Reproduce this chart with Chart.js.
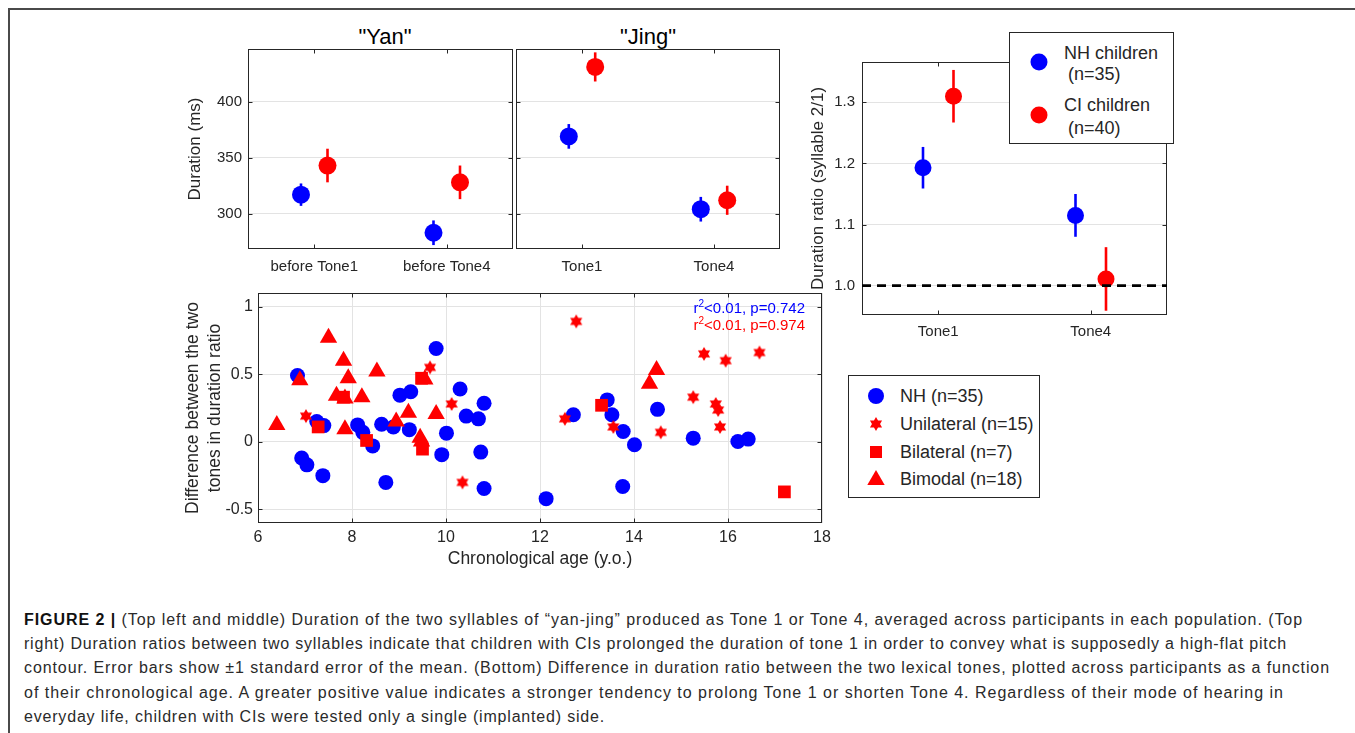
<!DOCTYPE html>
<html>
<head>
<meta charset="utf-8">
<title>Figure 2</title>
<script src="https://cdn.jsdelivr.net/npm/chart.js@4.4.1/dist/chart.umd.min.js"></script>
<style>
  html, body { margin:0; padding:0; background:#fff; }
  body { width:1355px; height:733px; position:relative; overflow:hidden; font-family:'Liberation Sans', Arial, Helvetica, sans-serif; color:#262626; }
  #frame { position:absolute; left:8px; top:8px; width:1360px; height:740px; border-top:2px solid #4a4a4a; border-left:2px solid #4a4a4a; }
  canvas.cv { position:absolute; }
  .ptitle { position:absolute; top:24px; font-size:22px; line-height:26px; white-space:nowrap; transform:translateX(-50%); color:#000; }
  .legend { position:absolute; border:1px solid #262626; background:#fff; box-sizing:border-box; z-index:5; }
  .legend .lt { position:absolute; font-size:18px; line-height:20px; white-space:nowrap; color:#262626; }
  .legend svg { position:absolute; }
  .note { position:absolute; right:550px; font-size:15px; line-height:18px; white-space:nowrap; z-index:5; }
  .note sup { font-size:10px; line-height:0; vertical-align:6px; }
  .cap { position:absolute; left:24px; font-size:16px; line-height:20px; white-space:nowrap; color:#2a2a2a; }
  .cap b { color:#111; }
</style>
</head>
<body>
<div id="frame"></div>

<div class="ptitle" style="left:385px;">"Yan"</div>
<div class="ptitle" style="left:648px;">"Jing"</div>

<canvas id="cYan" class="cv" width="346" height="240" style="left:170px;top:40px;"></canvas>
<canvas id="cJing" class="cv" width="270" height="240" style="left:513px;top:40px;"></canvas>
<canvas id="cRatio" class="cv" width="370" height="295" style="left:800px;top:50px;"></canvas>
<canvas id="cDiff" class="cv" width="675" height="290" style="left:170px;top:285px;"></canvas>

<div class="legend" id="legRatio" style="left:1009px;top:32px;width:165px;height:112px;">
  <svg id="mkNH1" width="20" height="20" style="left:19px;top:19px;"></svg>
  <div class="lt" style="left:54px;top:10px;">NH children</div>
  <div class="lt" style="left:58px;top:31px;">(n=35)</div>
  <svg id="mkCI1" width="20" height="20" style="left:19px;top:72px;"></svg>
  <div class="lt" style="left:54px;top:62px;">CI children</div>
  <div class="lt" style="left:58px;top:85px;">(n=40)</div>
</div>

<div class="legend" id="legDiff" style="left:848px;top:375px;width:192px;height:123px;">
  <svg id="mkNH" width="20" height="20" style="left:17px;top:10px;"></svg>
  <div class="lt" style="left:51px;top:10px;">NH (n=35)</div>
  <svg id="mkUni" width="20" height="20" style="left:17px;top:38px;"></svg>
  <div class="lt" style="left:51px;top:38px;">Unilateral (n=15)</div>
  <svg id="mkBi" width="20" height="20" style="left:17px;top:66px;"></svg>
  <div class="lt" style="left:51px;top:66px;">Bilateral (n=7)</div>
  <svg id="mkBim" width="20" height="20" style="left:17px;top:93px;"></svg>
  <div class="lt" style="left:51px;top:93px;">Bimodal (n=18)</div>
</div>

<div class="note" style="top:299px;color:#0000ff;">r<sup>2</sup>&lt;0.01, p=0.742</div>
<div class="note" style="top:316px;color:#ff0000;">r<sup>2</sup>&lt;0.01, p=0.974</div>

<div class="cap" data-w="1279" style="top:610px;"><b>FIGURE 2 |</b> (Top left and middle) Duration of the two syllables of “yan-jing” produced as Tone 1 or Tone 4, averaged across participants in each population. (Top</div>
<div class="cap" data-w="1263" style="top:634px;">right) Duration ratios between two syllables indicate that children with CIs prolonged the duration of tone 1 in order to convey what is supposedly a high-flat pitch</div>
<div class="cap" data-w="1306" style="top:658px;">contour. Error bars show ±1 standard error of the mean. (Bottom) Difference in duration ratio between the two lexical tones, plotted across participants as a function</div>
<div class="cap" data-w="1260" style="top:683px;">of their chronological age. A greater positive value indicates a stronger tendency to prolong Tone 1 or shorten Tone 4. Regardless of their mode of hearing in</div>
<div class="cap" data-w="581" style="top:707px;">everyday life, children with CIs were tested only a single (implanted) side.</div>

<script>
// ================= DATA =================
const yanCategories = ['before Tone1', 'before Tone4'];
const jingCategories = ['Tone1', 'Tone4'];
const ratioCategories = ['Tone1', 'Tone4'];

const durationTicks = [300, 350, 400];
const durationTickLabels = ['300', '350', '400'];
const durationRange = [268.5, 447];

const yanNH = [317, 283];
const yanNHse = [10, 11];
const yanCI = [343, 328];
const yanCIse = [15, 15];

const jingNH = [369, 304];
const jingNHse = [11, 11];
const jingCI = [431, 312];
const jingCIse = [13, 13];

const ratioTicks = [1.0, 1.1, 1.2, 1.3];
const ratioTickLabels = ['1.0', '1.1', '1.2', '1.3'];
const ratioRange = [0.952, 1.366];
const ratioNH = [1.193, 1.115];
const ratioNHse = [0.034, 0.035];
const ratioCI = [1.310, 1.011];
const ratioCIse = [0.043, 0.052];
const ratioReference = 1.0;

const ageTicks = [6, 8, 10, 12, 14, 16, 18];
const ageRange = [6, 18];
const diffTicks = [-0.5, 0, 0.5, 1];
const diffTickLabels = ['-0.5', '0', '0.5', '1'];
const diffRange = [-0.6, 1.1];

const nhAge  = [6.84, 6.93, 7.04, 7.25, 7.40, 7.38, 8.12, 8.23, 8.44, 8.63, 8.72, 8.88,
                9.02, 9.25, 9.22, 9.79, 9.91, 10.01, 10.30, 10.43, 10.69, 10.74, 10.81, 10.81,
                12.13, 12.71, 13.43, 13.53, 13.77, 13.76, 14.01, 14.50, 15.26, 16.21, 16.43];
const nhDiff = [0.49, -0.12, -0.17, 0.15, 0.12, -0.25, 0.125, 0.07, -0.03, 0.13, -0.30, 0.11,
                0.345, 0.37, 0.09, 0.69, -0.095, 0.064, 0.39, 0.19, 0.17, -0.076, 0.285, -0.345,
                -0.42, 0.20, 0.31, 0.20, 0.076, -0.33, -0.022, 0.24, 0.027, 0.002, 0.02];

const uniAge  = [7.02, 9.66, 10.12, 10.35, 12.77, 12.53, 13.56, 14.57, 15.49, 15.95, 16.67, 15.26, 15.74, 15.79, 15.83];
const uniDiff = [0.19, 0.55, 0.28, -0.30, 0.89, 0.17, 0.11, 0.07, 0.65, 0.60, 0.66, 0.33, 0.28, 0.235, 0.11];

const biAge  = [7.28, 7.82, 8.31, 9.48, 9.50, 13.31, 17.20];
const biDiff = [0.11, 0.33, 0.01, 0.47, -0.054, 0.27, -0.37];

const bimAge  = [6.40, 6.89, 7.50, 7.82, 7.92, 7.67, 7.85, 7.85, 8.21, 8.53, 8.94, 9.20, 9.48, 9.55, 9.79, 14.33, 14.48, 9.45];
const bimDiff = [0.125, 0.455, 0.77, 0.60, 0.47, 0.34, 0.32, 0.093, 0.33, 0.52, 0.15, 0.215, 0.002, 0.46, 0.205, 0.43, 0.53, 0.03];

// ================= STYLE =================
const F = "'Liberation Sans', Arial, Helvetica, sans-serif";
const AX = '#262626';
const GRID = '#e3e3e3';
const BLUE = '#0000ff', RED = '#ff0000';
const OFF = 0.1; // horizontal dodge of the two groups

Chart.defaults.font.family = F;
Chart.defaults.color = AX;
Chart.defaults.animation = false;
Chart.defaults.events = [];
Chart.defaults.plugins.legend.display = false;
Chart.defaults.plugins.tooltip.enabled = false;

function hexagramPoints(cx, cy, R) {
  const pts = [];
  for (let k = 0; k < 12; k++) {
    const a = -Math.PI / 2 + k * Math.PI / 6;
    const r = (k % 2 === 0) ? R : R / Math.sqrt(3);
    pts.push([cx + r * Math.cos(a), cy + r * Math.sin(a)]);
  }
  return pts;
}
function makeStar(R, color) {
  const c = document.createElement('canvas');
  const s = Math.ceil(2 * R + 2);
  c.width = s; c.height = s;
  const g = c.getContext('2d');
  g.fillStyle = color;
  g.beginPath();
  hexagramPoints(s / 2, s / 2, R).forEach(([x, y], i) => i ? g.lineTo(x, y) : g.moveTo(x, y));
  g.closePath(); g.fill();
  return c;
}
const starImg = makeStar(7, RED);

// remove the automatic label-overflow padding so the plot box lands exactly
function noPad(s) { s.paddingTop = 0; s.paddingBottom = 0; s.paddingLeft = 0; s.paddingRight = 0; }

// MATLAB-like box with inward ticks
const boxPlugin = {
  id: 'matlabBox',
  beforeDatasetsDraw(chart) {
    const {ctx, chartArea: a, scales} = chart;
    const L = Math.round(a.left) + 0.5, R = Math.round(a.right) - 0.5;
    const T = Math.round(a.top) + 0.5, B = Math.round(a.bottom) - 0.5;
    ctx.save();
    ctx.strokeStyle = AX; ctx.lineWidth = 1;
    ctx.strokeRect(L, T, R - L, B - T);
    const tl = 4;
    ctx.beginPath();
    scales.x.ticks.forEach(t => {
      const p = Math.round(scales.x.getPixelForValue(t.value)) + 0.5;
      if (p <= L + 1 || p >= R - 1) return;
      ctx.moveTo(p, B); ctx.lineTo(p, B - tl);
      ctx.moveTo(p, T); ctx.lineTo(p, T + tl);
    });
    scales.y.ticks.forEach(t => {
      const p = Math.round(scales.y.getPixelForValue(t.value)) + 0.5;
      if (p <= T + 1 || p >= B - 1) return;
      ctx.moveTo(L, p); ctx.lineTo(L + tl, p);
      ctx.moveTo(R, p); ctx.lineTo(R - tl, p);
    });
    ctx.stroke();
    ctx.restore();
  }
};

// vertical error bars (±1 SE) drawn through the chart's scales
const errorBarPlugin = {
  id: 'errorBars',
  beforeDatasetsDraw(chart) {
    const {ctx, scales: {x, y}} = chart;
    chart.data.datasets.forEach(ds => {
      if (!ds.errors) return;
      ctx.save();
      ctx.strokeStyle = ds.pointBackgroundColor;
      ctx.lineWidth = 2.6;
      ds.data.forEach((p, j) => {
        const e = ds.errors[j];
        const px = x.getPixelForValue(p.x);
        ctx.beginPath();
        ctx.moveTo(px, y.getPixelForValue(p.y - e));
        ctx.lineTo(px, y.getPixelForValue(p.y + e));
        ctx.stroke();
      });
      ctx.restore();
    });
  }
};

function catXScale(cats, height, pad) {
  return {
    type: 'linear', min: 0.5, max: cats.length + 0.5, offset: false,
    afterBuildTicks: s => { s.ticks = cats.map((c, i) => ({value: i + 1})); },
    ticks: { autoSkip: false, maxRotation: 0, padding: pad, font: {size: 15}, color: AX,
             callback: (v, i) => cats[i] },
    grid: { display: false, drawTicks: false },
    border: { display: false },
    afterFit: s => { s.height = height; noPad(s); }
  };
}
function valYScale(range, ticks, labels, width, showLabels, title, titlePad, pad) {
  return {
    type: 'linear', min: range[0], max: range[1],
    afterBuildTicks: s => { s.ticks = ticks.map(v => ({value: v})); },
    ticks: { display: showLabels, padding: pad, font: {size: 15}, color: AX,
             callback: (v, i) => labels[i] },
    grid: { color: GRID, lineWidth: 1, drawTicks: false },
    border: { display: false },
    title: title ? { display: true, text: title, color: AX, font: {size: 17, lineHeight: 1.2},
                     padding: {top: titlePad, bottom: 0} } : {display: false},
    afterFit: s => { s.width = width; noPad(s); }
  };
}
function groupSets(nh, nhse, ci, cise, r) {
  return [
    { label: 'NH', data: nh.map((v, i) => ({x: i + 1 - OFF, y: v})), errors: nhse,
      pointBackgroundColor: BLUE, pointBorderColor: BLUE, pointBorderWidth: 0, pointRadius: r, order: 2 },
    { label: 'CI', data: ci.map((v, i) => ({x: i + 1 + OFF, y: v})), errors: cise,
      pointBackgroundColor: RED, pointBorderColor: RED, pointBorderWidth: 0, pointRadius: r, order: 1 }
  ];
}

// ---- "Yan" ----
new Chart(document.getElementById('cYan'), {
  type: 'scatter',
  data: { datasets: groupSets(yanNH, yanNHse, yanCI, yanCIse, 9) },
  options: {
    responsive: false, devicePixelRatio: 1,
    layout: { autoPadding: false, padding: {top: 9, right: 3, left: 0, bottom: 0} },
    scales: {
      x: catXScale(yanCategories, 31, 9),
      y: valYScale(durationRange, durationTicks, durationTickLabels, 78, true, 'Duration (ms)', 15, 6)
    }
  },
  plugins: [boxPlugin, errorBarPlugin]
});

// ---- "Jing" ----
new Chart(document.getElementById('cJing'), {
  type: 'scatter',
  data: { datasets: groupSets(jingNH, jingNHse, jingCI, jingCIse, 9) },
  options: {
    responsive: false, devicePixelRatio: 1,
    layout: { autoPadding: false, padding: {top: 9, right: 3, left: 0, bottom: 0} },
    scales: {
      x: catXScale(jingCategories, 31, 9),
      y: valYScale(durationRange, durationTicks, durationTickLabels, 3, false, null, 0, 6)
    }
  },
  plugins: [boxPlugin, errorBarPlugin]
});

// ---- Duration ratio ----
const ratioSets = groupSets(ratioNH, ratioNHse, ratioCI, ratioCIse, 8.5);
ratioSets.push({
  type: 'line', label: 'ref',
  data: [{x: 0.5, y: ratioReference}, {x: ratioCategories.length + 0.5, y: ratioReference}],
  borderColor: '#000', borderWidth: 2.6, borderDash: [9, 6], pointRadius: 0, showLine: true, order: 0
});
new Chart(document.getElementById('cRatio'), {
  type: 'scatter',
  data: { datasets: ratioSets },
  options: {
    responsive: false, devicePixelRatio: 1,
    layout: { autoPadding: false, padding: {top: 12, right: 3, left: 0, bottom: 0} },
    scales: {
      x: catXScale(ratioCategories, 30, 8),
      y: valYScale(ratioRange, ratioTicks, ratioTickLabels, 62, true, 'Duration ratio (syllable 2/1)', 8, 7)
    }
  },
  plugins: [boxPlugin, errorBarPlugin]
});

// ---- Difference vs age ----
const pts = (xs, ys) => xs.map((x, i) => ({x, y: ys[i]}));
new Chart(document.getElementById('cDiff'), {
  type: 'scatter',
  data: { datasets: [
    { label: 'NH (n=35)', data: pts(nhAge, nhDiff), pointStyle: 'circle', pointRadius: 7.5,
      pointBackgroundColor: BLUE, pointBorderColor: BLUE, pointBorderWidth: 0, order: 4 },
    { label: 'Unilateral (n=15)', data: pts(uniAge, uniDiff), pointStyle: starImg, pointRadius: 7,
      pointBackgroundColor: RED, pointBorderColor: RED, pointBorderWidth: 0, order: 3 },
    { label: 'Bilateral (n=7)', data: pts(biAge, biDiff), pointStyle: 'rect', pointRadius: 9,
      pointBackgroundColor: RED, pointBorderColor: RED, pointBorderWidth: 0, order: 2 },
    { label: 'Bimodal (n=18)', data: pts(bimAge, bimDiff), pointStyle: 'triangle', pointRadius: 10,
      pointBackgroundColor: RED, pointBorderColor: RED, pointBorderWidth: 0, order: 1 }
  ]},
  options: {
    responsive: false, devicePixelRatio: 1,
    layout: { autoPadding: false, padding: {top: 8, right: 23, left: 0, bottom: 0} },
    scales: {
      x: {
        type: 'linear', min: ageRange[0], max: ageRange[1],
        afterBuildTicks: s => { s.ticks = ageTicks.map(v => ({value: v})); },
        ticks: { padding: 5, font: {size: 16}, color: AX, maxRotation: 0, autoSkip: false,
                 callback: (v, i) => String(ageTicks[i]) },
        grid: { color: GRID, drawTicks: false }, border: { display: false },
        title: { display: true, text: 'Chronological age (y.o.)', color: AX,
                 font: {size: 17.5, lineHeight: 1.2}, padding: {top: 0, bottom: 5} },
        afterFit: s => { s.height = 52; noPad(s); }
      },
      y: {
        type: 'linear', min: diffRange[0], max: diffRange[1],
        afterBuildTicks: s => { s.ticks = diffTicks.map(v => ({value: v})); },
        ticks: { padding: 5, font: {size: 16}, color: AX, callback: (v, i) => diffTickLabels[i] },
        grid: { color: GRID, drawTicks: false }, border: { display: false },
        title: { display: true, text: ['Difference between the two', 'tones in duration ratio'], color: AX,
                 font: {size: 17.5, lineHeight: 1.25}, padding: {top: 12, bottom: 0} },
        afterFit: s => { s.width = 88; noPad(s); }
      }
    }
  },
  plugins: [boxPlugin]
});

// ---- legend markers (SVG) ----
const NS = 'http://www.w3.org/2000/svg';
function svgEl(tag, attrs) { const e = document.createElementNS(NS, tag); for (const k in attrs) e.setAttribute(k, attrs[k]); return e; }
document.getElementById('mkNH1').appendChild(svgEl('circle', {cx: 10, cy: 10, r: 8.5, fill: BLUE}));
document.getElementById('mkCI1').appendChild(svgEl('circle', {cx: 10, cy: 10, r: 8.5, fill: RED}));
document.getElementById('mkNH').appendChild(svgEl('circle', {cx: 10, cy: 10, r: 8, fill: BLUE}));
document.getElementById('mkUni').appendChild(svgEl('polygon', {points: hexagramPoints(10, 10, 7).map(p => p.join(',')).join(' '), fill: RED}));
document.getElementById('mkBi').appendChild(svgEl('rect', {x: 4, y: 4, width: 12, height: 12, fill: RED}));
document.getElementById('mkBim').appendChild(svgEl('polygon', {points: '10,1 18.7,16 1.3,16', fill: RED}));

// ---- fit caption lines to the reference widths ----
function fitCaption() {
  document.querySelectorAll('.cap').forEach(el => {
    el.style.letterSpacing = '0px';
    const w = el.getBoundingClientRect().width;
    const n = el.textContent.length;
    const target = +el.dataset.w;
    el.style.letterSpacing = ((target - w) / n).toFixed(3) + 'px';
  });
}
fitCaption();
</script>
</body>
</html>
